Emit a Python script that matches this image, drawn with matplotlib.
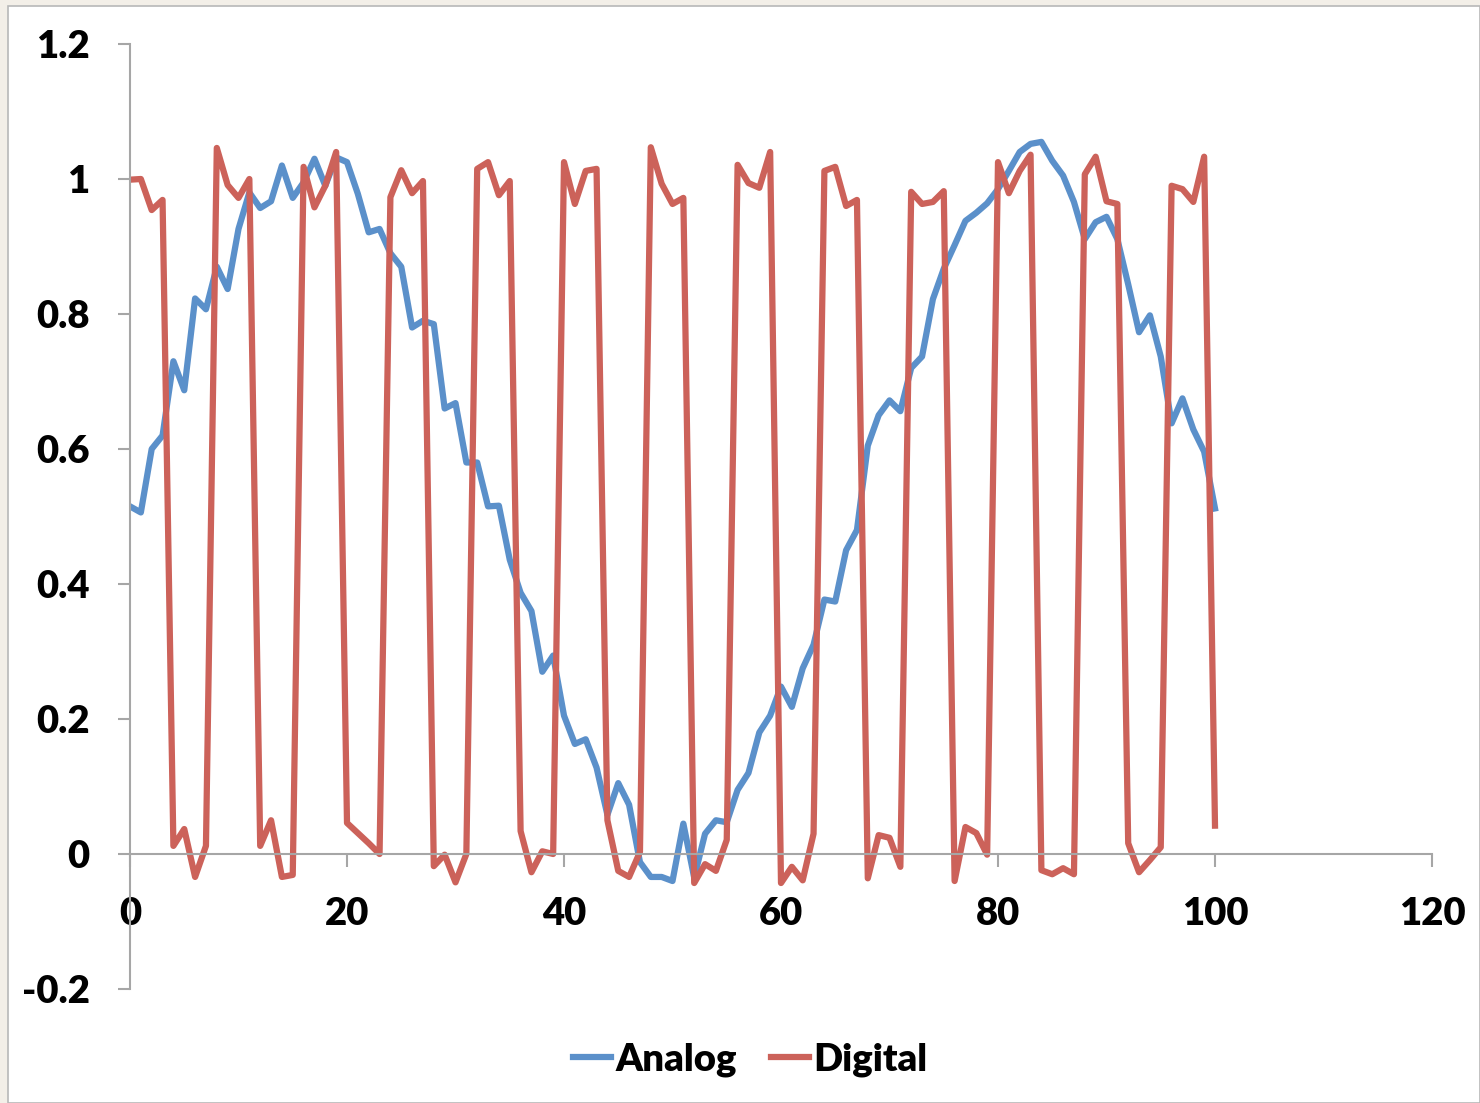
import matplotlib.pyplot as plt
from matplotlib.patches import Rectangle

# sample index 0..100
x_vals = list(range(101))

analog = [0.515, 0.506, 0.60, 0.62, 0.73, 0.687, 0.823, 0.807, 0.87, 0.837,
          0.926, 0.98, 0.957, 0.967, 1.02, 0.972, 0.995, 1.03, 0.99, 1.032,
          1.025, 0.978, 0.921, 0.926, 0.89, 0.87, 0.78, 0.79, 0.785, 0.66,
          0.668, 0.58, 0.58, 0.515, 0.516, 0.436, 0.387, 0.36, 0.27, 0.294,
          0.205, 0.163, 0.17, 0.128, 0.058, 0.105, 0.073, -0.012, -0.034, -0.034,
          -0.04, 0.045, -0.035, 0.03, 0.05, 0.047, 0.095, 0.12, 0.18, 0.205,
          0.248, 0.218, 0.275, 0.31, 0.377, 0.374, 0.45, 0.48, 0.605, 0.65,
          0.672, 0.656, 0.72, 0.737, 0.822, 0.867, 0.902, 0.938, 0.95, 0.964,
          0.985, 1.012, 1.04, 1.052, 1.055, 1.027, 1.005, 0.966, 0.911, 0.936,
          0.944, 0.911, 0.844, 0.773, 0.798, 0.737, 0.638, 0.675, 0.629, 0.596,
          0.512]

digital = [0.999, 1.0, 0.954, 0.969, 0.012, 0.037, -0.034, 0.012, 1.046, 0.991,
           0.972, 1.0, 0.012, 0.05, -0.034, -0.031, 1.018, 0.958, 0.99, 1.04,
           0.046, 0.031, 0.016, 0.0, 0.973, 1.013, 0.979, 0.997, -0.018, -0.001,
           -0.042, 0.0, 1.015, 1.025, 0.976, 0.997, 0.034, -0.027, 0.004, 0.0,
           1.025, 0.963, 1.012, 1.015, 0.05, -0.025, -0.034, 0.003, 1.047, 0.993,
           0.963, 0.972, -0.043, -0.015, -0.025, 0.021, 1.021, 0.994, 0.987, 1.04,
           -0.043, -0.019, -0.039, 0.03, 1.012, 1.018, 0.96, 0.969, -0.036, 0.028,
           0.024, -0.019, 0.981, 0.963, 0.966, 0.982, -0.04, 0.04, 0.031, -0.001,
           1.025, 0.979, 1.012, 1.036, -0.024, -0.03, -0.021, -0.03, 1.007, 1.033,
           0.967, 0.963, 0.016, -0.027, -0.009, 0.01, 0.99, 0.985, 0.966, 1.033,
           0.042]

x_ticks = [0, 20, 40, 60, 80, 100, 120]
y_ticks = [-0.2, 0, 0.2, 0.4, 0.6, 0.8, 1, 1.2]
y_tick_labels = ["-0.2", "0", "0.2", "0.4", "0.6", "0.8", "1", "1.2"]

plt.rcParams['font.family'] = ['Lato', 'DejaVu Sans']
plt.rcParams['font.weight'] = 'heavy'

fig = plt.figure(figsize=(14.8, 11.03), dpi=100)
fig.patch.set_facecolor('#f3efe8')
# white chart area with thin grey border, behind everything
fig.patches.append(Rectangle((8/1480, 0), 1 - 8/1480, 1 - 6/1103, transform=fig.transFigure,
                             facecolor='white', edgecolor='#b8b8b8', linewidth=1.2, zorder=-10))

ax = fig.add_axes([130/1480, 1 - 989/1103, 1302/1480, 945/1103])
ax.set_facecolor('none')

ax.plot(x_vals, analog, color='#5b90ca', linewidth=4.5, label='Analog')
ax.plot(x_vals, digital, color='#cc625a', linewidth=4.5, label='Digital')

ax.set_xlim(0, 120)
ax.set_ylim(-0.2, 1.2)
ax.set_xticks(x_ticks)
ax.set_yticks(y_ticks)
ax.set_yticklabels(y_tick_labels)

for s in ['top', 'right']:
    ax.spines[s].set_visible(False)
ax.spines['bottom'].set_position(('data', 0))
for s in ['left', 'bottom']:
    ax.spines[s].set_color('#a6a6a6')
    ax.spines[s].set_linewidth(1.5)

ax.tick_params(axis='both', direction='out', length=9, width=1.5, color='#a6a6a6',
               labelsize=27.5, labelcolor='black')
ax.tick_params(axis='y', pad=20)
ax.tick_params(axis='x', pad=22)
for lab in ax.get_xticklabels() + ax.get_yticklabels():
    lab.set_fontweight('heavy')

leg = fig.legend(loc='center', bbox_to_anchor=(750/1480, 1 - 1060/1103), ncol=2, frameon=False,
                 prop={'size': 27.5, 'weight': 'heavy'}, handlelength=1.0, handletextpad=0.1,
                 columnspacing=0.9)

fig.savefig('out.png', dpi=100, facecolor=fig.get_facecolor())
